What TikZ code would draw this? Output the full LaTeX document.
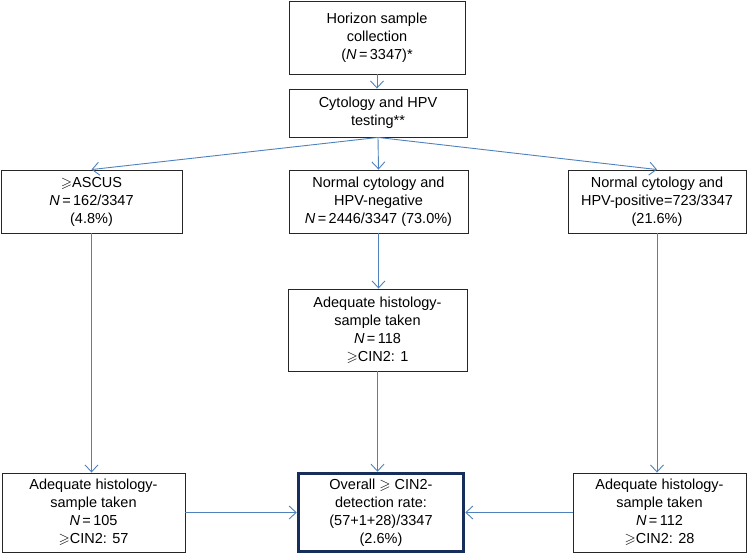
\documentclass[tikz,border=0pt]{standalone}
\usepackage{amssymb}
\usepackage{fontspec}
\setmainfont{Liberation Sans}
\usetikzlibrary{arrows.meta}
\definecolor{linkblue}{RGB}{79,129,189}
\definecolor{navy}{RGB}{23,45,90}
\begin{document}
\begin{tikzpicture}[x=1pt,y=-1pt,
  box/.style={draw=black!85,line width=0.9pt,rectangle,align=center,inner sep=2pt,
    font=\fontsize{14.5}{18}\selectfont},
  bigbox/.style={box,draw=navy,line width=3.5pt},
  arr/.style={draw=linkblue,line width=0.9pt,-{Straight Barb[length=7pt,width=13pt]}}]
\useasboundingbox (0,0) rectangle (751,554);
\node[box,minimum width=176,minimum height=73] (top) at (377,37.5)
  {Horizon sample\\collection\\(\textit{N}\,=\,3347)*};
\node[box,minimum width=178,minimum height=48] (cyt) at (378,113)
  {Cytology and HPV\\testing**};
\node[box,minimum width=181,minimum height=63] (L1) at (91.5,201.5)
  {$\geqslant$ASCUS\\\textit{N}\,=\,162/3347\\(4.8\%)};
\node[box,minimum width=179,minimum height=63] (C1) at (378.5,201.5)
  {Normal cytology and\\HPV-negative\\\textit{N}\,=\,2446/3347 (73.0\%)};
\node[box,minimum width=178,minimum height=63] (R1) at (657,201.5)
  {Normal cytology and\\HPV-positive=723/3347\\(21.6\%)};
\node[box,minimum width=179,minimum height=82] (C2) at (377.5,330)
  {Adequate histology-\\sample taken\\\textit{N}\,=\,118\\$\geqslant$CIN2: 1};
\node[box,minimum width=183,minimum height=79] (L3) at (93.5,512.5)
  {Adequate histology-\\sample taken\\\textit{N}\,=\,105\\$\geqslant$CIN2: 57};
\node[bigbox,minimum width=165,minimum height=78] (O) at (381,512.5)
  {Overall $\geqslant$ CIN2-\\detection rate:\\(57+1+28)/3347\\(2.6\%)};
\node[box,minimum width=173,minimum height=79] (R3) at (659.5,512.5)
  {Adequate histology-\\sample taken\\\textit{N}\,=\,112\\$\geqslant$CIN2: 28};
\draw[arr] (top.south) -- (top.south |- cyt.north);
\draw[arr] (cyt.south) -- (L1.north);
\draw[arr] (cyt.south) -- (C1.north);
\draw[arr] (cyt.south) -- (R1.north);
\draw[arr] (L1.south) -- (L1.south |- L3.north);
\draw[arr] (C1.south) -- (C1.south |- C2.north);
\draw[arr] (C2.south) -- (C2.south |- O.north);
\draw[arr] (R1.south) -- (R1.south |- R3.north);
\draw[arr] (L3.east) -- (L3.east -| O.west);
\draw[arr] (R3.west) -- (R3.west -| O.east);
\end{tikzpicture}
\end{document}
